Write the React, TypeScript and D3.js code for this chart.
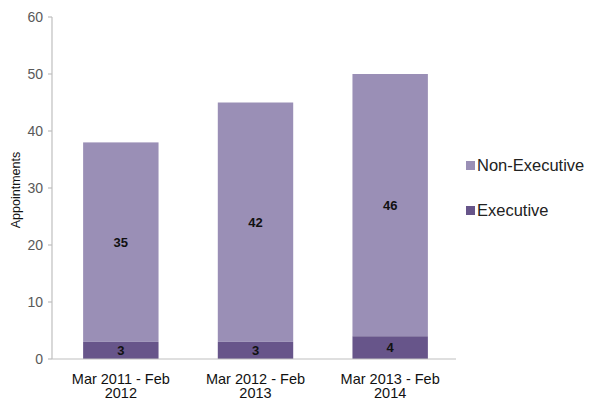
import React from "react";
import * as d3 from "d3";

const categories = [["Mar 2011 - Feb", "2012"], ["Mar 2012 - Feb", "2013"], ["Mar 2013 - Feb", "2014"]];
const executive = [3, 3, 4];
const nonExecutive = [35, 42, 46];
const yTicks = [0, 10, 20, 30, 40, 50, 60];
const seriesNames = ["Non-Executive", "Executive"];
const colors = { exec: "#67558a", non: "#9a8fb6" };

export default function App() {
  const W = 591, H = 401;
  const left = 52, right = 456, top = 17, bottom = 359;
  const x = d3.scaleBand<number>().domain([0, 1, 2]).range([left + 1.5, right + 1.5]).paddingInner(0.44).paddingOuter(0.22);
  const y = d3.scaleLinear().domain([0, 60]).range([bottom, top]);
  const font = "Liberation Sans, Arial, sans-serif";
  return (
    <svg width={W} height={H} style={{ position: "absolute", left: 0, top: 0 }}>
      <rect width={W} height={H} fill="#fff" />
      {categories.map((c, i) => {
        const bx = x(i)!;
        const bw = x.bandwidth();
        const e = executive[i], n = nonExecutive[i];
        return (
          <g key={i}>
            <rect x={bx} y={y(e)} width={bw} height={y(0) - y(e)} fill={colors.exec} />
            <rect x={bx} y={y(e + n)} width={bw} height={y(e) - y(e + n)} fill={colors.non} />
            <text x={bx + bw / 2} y={(y(0) + y(e)) / 2 + 4.5} textAnchor="middle" fontFamily={font} fontWeight="bold" fontSize={13} fill="#111">{e}</text>
            <text x={bx + bw / 2} y={(y(e) + y(e + n)) / 2 + 4.5} textAnchor="middle" fontFamily={font} fontWeight="bold" fontSize={13} fill="#111">{n}</text>
            <text x={bx + bw / 2} textAnchor="middle" fontFamily={font} fontSize={14.5} fill="#111">
              <tspan x={bx + bw / 2} y={384}>{c[0]}</tspan>
              <tspan x={bx + bw / 2} y={398}>{c[1]}</tspan>
            </text>
          </g>
        );
      })}
      <line x1={left} x2={left} y1={top} y2={bottom} stroke="#bfbfbf" strokeWidth={1.2} />
      <line x1={left} x2={right} y1={bottom} y2={bottom} stroke="#bfbfbf" strokeWidth={1.2} />
      {yTicks.map((t) => (
        <g key={t}>
          <line x1={left - 4} x2={left} y1={y(t)} y2={y(t)} stroke="#bfbfbf" strokeWidth={1.2} />
          <text x={left - 9} y={y(t) + 5} textAnchor="end" fontFamily={font} fontSize={14} fill="#595959">{t}</text>
        </g>
      ))}
      <text transform={`translate(20,${(top + bottom) / 2 + 2}) rotate(-90)`} textAnchor="middle" fontFamily={font} fontSize={12.5} fill="#111">Appointments</text>
      {seriesNames.map((s, i) => (
        <g key={s} transform={`translate(466,${165 + i * 45})`}>
          <rect x={0} y={-4} width={9} height={9} fill={i === 0 ? colors.non : colors.exec} />
          <text x={11} y={6} fontFamily={font} fontSize={16.5} fill="#222">{s}</text>
        </g>
      ))}
    </svg>
  );
}
